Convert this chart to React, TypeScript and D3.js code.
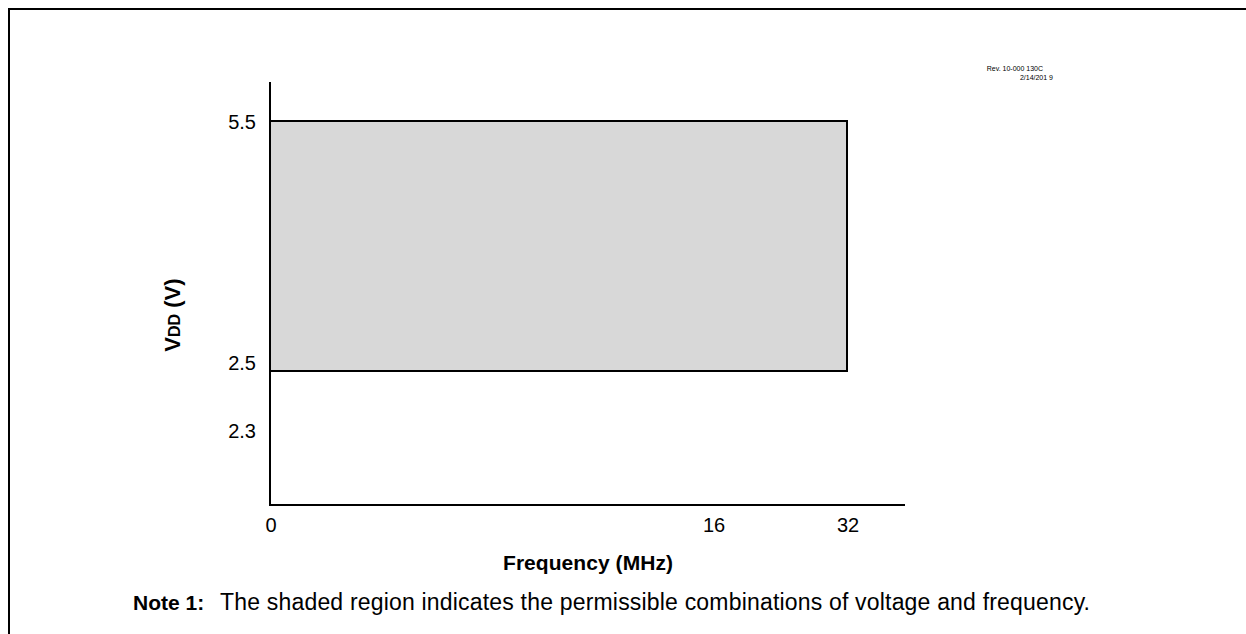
import React, { useEffect, useRef } from "react";
import * as d3 from "d3";

// operating region (shaded)
const regionFreq = [0, 32];
const regionVdd = [2.5, 5.5];

// tick labels (axis is schematic, not to scale)
const freqTicks = [0, 16, 32];
const vddTicks = [2.3, 2.5, 5.5];

const noteLead = "Note 1:";
const noteText =
  "The shaded region indicates the permissible combinations of voltage and frequency.";
const revLines = ["Rev. 10-000 130C", "2/14/201 9"];

const App: React.FC = () => {
  const svgRef = useRef<SVGSVGElement | null>(null);

  useEffect(() => {
    const width = 1246;
    const height = 634;
    const font = "Arial, 'Liberation Sans', sans-serif";

    const svg = d3
      .select(svgRef.current)
      .attr("width", width)
      .attr("height", height)
      .attr("viewBox", [0, 0, width, height].join(" "))
      .style("font-family", font);
    svg.selectAll("*").remove();

    // piecewise scales, the drawing is not linear
    const x = d3.scaleLinear().domain([0, 16, 32]).range([270, 713, 847]);
    const y = d3.scaleLinear().domain([2.3, 2.5, 5.5]).range([430, 371, 121]);

    const axisLeft = 270;
    const axisBottom = 505;
    const axisTop = 82;
    const axisRight = 905;

    // frame
    svg
      .append("rect")
      .attr("x", 9)
      .attr("y", 9)
      .attr("width", width + 20)
      .attr("height", height + 20)
      .attr("fill", "none")
      .attr("stroke", "#000")
      .attr("stroke-width", 2);

    // shaded region
    svg
      .append("rect")
      .attr("x", x(regionFreq[0]))
      .attr("y", y(regionVdd[1]))
      .attr("width", x(regionFreq[1]) - x(regionFreq[0]))
      .attr("height", y(regionVdd[0]) - y(regionVdd[1]))
      .attr("fill", "#d8d8d8")
      .attr("stroke", "#000")
      .attr("stroke-width", 2);

    // axes
    svg
      .append("path")
      .attr("d", `M${axisLeft},${axisTop}V${axisBottom}H${axisRight}`)
      .attr("fill", "none")
      .attr("stroke", "#000")
      .attr("stroke-width", 2);

    // y tick labels
    svg
      .append("g")
      .selectAll("text")
      .data(vddTicks)
      .join("text")
      .attr("x", 256)
      .attr("y", (d) => y(d) + (d === 2.5 ? -1.5 : 7.5))
      .attr("text-anchor", "end")
      .attr("font-size", 20)
      .text((d) => d3.format(".1f")(d));

    // x tick labels
    svg
      .append("g")
      .selectAll("text")
      .data(freqTicks)
      .join("text")
      .attr("x", (d) => x(d) + 1)
      .attr("y", 532)
      .attr("text-anchor", "middle")
      .attr("font-size", 20)
      .text((d) => String(d));

    // x title
    svg
      .append("text")
      .attr("x", 503)
      .attr("y", 570)
      .attr("font-size", 21)
      .attr("font-weight", "bold")
      .attr("textLength", 170)
      .attr("lengthAdjust", "spacing")
      .text("Frequency (MHz)");

    // y title
    const yt = svg
      .append("text")
      .attr("transform", "translate(180,315) rotate(-90)")
      .attr("text-anchor", "middle")
      .attr("font-size", 22)
      .attr("font-weight", "bold");
    yt.append("tspan").text("V");
    yt.append("tspan").attr("font-size", 16).text("DD");
    yt.append("tspan").text(" (V)");

    // note
    svg
      .append("text")
      .attr("x", 133)
      .attr("y", 610)
      .attr("font-size", 21)
      .attr("font-weight", "bold")
      .text(noteLead);
    svg
      .append("text")
      .attr("x", 220)
      .attr("y", 610)
      .attr("font-size", 23)
      .attr("textLength", 870)
      .attr("lengthAdjust", "spacing")
      .text(noteText);

    // revision stamp
    svg
      .append("g")
      .selectAll("text")
      .data(revLines)
      .join("text")
      .attr("x", (_, i) => (i === 0 ? 1043 : 1053))
      .attr("y", (_, i) => 71 + i * 9)
      .attr("text-anchor", "end")
      .attr("font-size", 7)
      .text((d) => d);
  }, []);

  return (
    <div style={{ position: "absolute", left: 0, top: 0, width: 1246, height: 634, overflow: "hidden" }}>
      <svg ref={svgRef} style={{ display: "block" }}></svg>
    </div>
  );
};

export default App;
